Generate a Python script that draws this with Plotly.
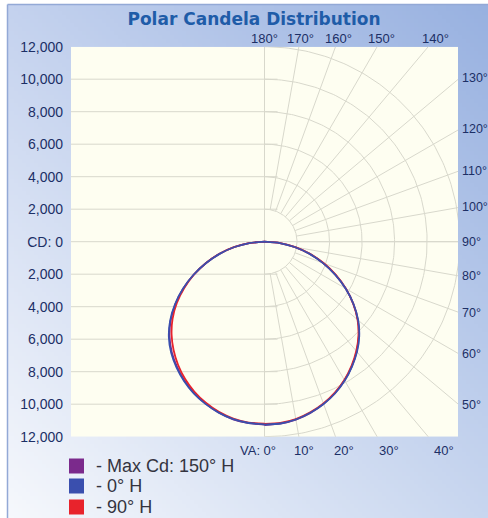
import base64
import struct
import zlib

import numpy as np
import plotly.graph_objects as go

# ---------------- data ----------------
VERT_ANGLES = [0, 5, 10, 15, 20, 25, 30, 35, 40, 45, 50, 55, 60, 65, 70, 75, 80, 85, 90]

SERIES_NAMES = ["- Max Cd: 150° H", "- 0° H", "- 90° H"]

# candela on the right half-plane (named plane) and on the opposite half-plane (left side)
MAX150_RIGHT = [11280, 11240, 11120, 10910, 10620, 10270, 9850, 9360, 8820, 8210, 7500, 6670, 5770, 4810, 3840, 2870, 1900, 950, 0]
MAX150_LEFT = [11250, 11210, 11100, 10880, 10600, 10260, 9860, 9390, 8870, 8260, 7530, 6690, 5770, 4800, 3820, 2850, 1880, 940, 0]
H0_RIGHT = [11260, 11230, 11110, 10900, 10630, 10290, 9870, 9380, 8850, 8240, 7520, 6680, 5760, 4790, 3810, 2840, 1880, 940, 0]
H0_LEFT = [11240, 11200, 11090, 10890, 10620, 10300, 9900, 9440, 8930, 8320, 7580, 6720, 5790, 4810, 3800, 2830, 1870, 930, 0]
H90_RIGHT = [11220, 11190, 11080, 10870, 10590, 10240, 9820, 9330, 8780, 8170, 7470, 6660, 5780, 4840, 3880, 2900, 1930, 970, 0]
H90_LEFT = [11200, 11170, 11050, 10840, 10550, 10190, 9760, 9260, 8700, 8080, 7380, 6580, 5700, 4780, 3830, 2870, 1910, 960, 0]

Y_TICK_VALS = [12000, 10000, 8000, 6000, 4000, 2000, 0, -2000, -4000, -6000, -8000, -10000, -12000]
Y_TICK_TEXT = ["12,000", "10,000", "8,000", "6,000", "4,000", "2,000", "CD: 0",
               "2,000", "4,000", "6,000", "8,000", "10,000", "12,000"]

GRID_RADII = [2000, 4000, 6000, 8000, 10000, 12000]
RADIAL_ANGLES = [10, 20, 30, 40, 50, 60, 70, 80, 90, 100, 110, 120, 130, 140, 150, 160, 170]
TOP_ANGLE_LABELS = [180, 170, 160, 150, 140]
RIGHT_ANGLE_LABELS = [130, 120, 110, 100, 90, 80, 70, 60, 50]
BOTTOM_ANGLE_LABELS = [0, 10, 20, 30, 40]

# ---------------- style ----------------
W, H = 488, 518
COLORS = ["#7b2a8c", "#3a4fae", "#e8232c"]
NAVY = "#1c2f66"
GRID = "#d8d8cc"
X_MAX = 11900
Y_MAX = 12000
FONT = "Liberation Sans, Arial, sans-serif"


def gradient_png(w, h, tl, tr, bl, br):
    raw = bytearray()
    for j in range(h):
        v = j / (h - 1)
        raw.append(0)
        for i in range(w):
            u = i / (w - 1)
            for k in range(3):
                c = (tl[k] * (1 - u) * (1 - v) + tr[k] * u * (1 - v)
                     + bl[k] * (1 - u) * v + br[k] * u * v)
                raw.append(int(round(c)))

    def chunk(t, d):
        return struct.pack(">I", len(d)) + t + d + struct.pack(">I", zlib.crc32(t + d) & 0xFFFFFFFF)

    png = (b"\x89PNG\r\n\x1a\n"
           + chunk(b"IHDR", struct.pack(">IIBBBBB", w, h, 8, 2, 0, 0, 0))
           + chunk(b"IDAT", zlib.compress(bytes(raw), 9))
           + chunk(b"IEND", b""))
    return "data:image/png;base64," + base64.b64encode(png).decode()


def px(x):
    return x / W


def py(y):
    return 1 - y / H


fig = go.Figure()

# ----- grid: left horizontal lines -----
for yv in Y_TICK_VALS:
    if abs(yv) == Y_MAX:
        continue
    fig.add_trace(go.Scatter(x=[-X_MAX, 800 if yv != 0 else X_MAX], y=[yv, yv], mode="lines",
                             line=dict(color=GRID, width=1), hoverinfo="skip", showlegend=False))
# vertical axis line
fig.add_trace(go.Scatter(x=[0, 0], y=[-Y_MAX, Y_MAX], mode="lines",
                         line=dict(color=GRID, width=1), hoverinfo="skip", showlegend=False))
# arcs
th = np.radians(np.arange(0, 181, 1))
for r in GRID_RADII:
    fig.add_trace(go.Scatter(x=r * np.sin(th), y=-r * np.cos(th), mode="lines",
                             line=dict(color=GRID, width=1), hoverinfo="skip", showlegend=False))
# radial lines
for a in RADIAL_ANGLES:
    ar = np.radians(a)
    r0, r1 = GRID_RADII[0], 30000
    fig.add_trace(go.Scatter(x=[r0 * np.sin(ar), r1 * np.sin(ar)], y=[-r0 * np.cos(ar), -r1 * np.cos(ar)],
                             mode="lines", line=dict(color=GRID, width=1),
                             hoverinfo="skip", showlegend=False))

# ----- candela curves -----
va = np.radians(np.array(VERT_ANGLES))
series = [(MAX150_RIGHT, MAX150_LEFT), (H0_RIGHT, H0_LEFT), (H90_RIGHT, H90_LEFT)]
order = [0, 2, 1]
for idx in order:
    right, left = series[idx]
    r_r = np.array(right, dtype=float)
    r_l = np.array(left, dtype=float)
    xs = np.concatenate([r_r * np.sin(va), (-r_l * np.sin(va))[::-1]])
    ys = np.concatenate([-r_r * np.cos(va), (-r_l * np.cos(va))[::-1]])
    fig.add_trace(go.Scatter(x=xs, y=ys, mode="lines", name=SERIES_NAMES[idx],
                             line=dict(color=COLORS[idx], width=1.8, shape="spline", smoothing=0.6),
                             showlegend=False))

# ----- angle labels -----
ann = []
lab_font = dict(family=FONT, size=13, color=NAVY)
for a in TOP_ANGLE_LABELS:
    yt = 12500
    xt = -yt * np.tan(np.radians(a))
    ann.append(dict(x=xt, y=py(38.5), xref="x", yref="paper", text=f"{a}°", showarrow=False,
                    xanchor="center", yanchor="middle", font=lab_font))
for a in RIGHT_ANGLE_LABELS:
    yt = -12000 / np.tan(np.radians(a)) if a != 90 else 0
    ann.append(dict(x=X_MAX, y=yt, xref="x", yref="y", text=f"{a}°", showarrow=False,
                    xanchor="left", yanchor="middle", xshift=2, font=dict(family=FONT, size=12.5, color=NAVY)))
for a in BOTTOM_ANGLE_LABELS:
    xt = 12900 * np.tan(np.radians(a))
    if a == 0:
        ann.append(dict(x=0, y=py(450), xref="x", yref="paper", text=f"VA: {a}°", showarrow=False,
                        xanchor="right", yanchor="middle", xshift=13, font=lab_font))
    else:
        ann.append(dict(x=xt, y=py(450), xref="x", yref="paper", text=f"{a}°", showarrow=False,
                        xanchor="center", yanchor="middle", xshift=3, font=lab_font))

# ----- legend (custom swatches) -----
shapes = []
legend_rows = [466, 486, 507]
for i, name in enumerate(SERIES_NAMES):
    yc = legend_rows[i]
    shapes.append(dict(type="rect", xref="paper", yref="paper", x0=px(69), x1=px(84),
                       y0=py(yc + 7.5), y1=py(yc - 7.5), fillcolor=COLORS[i],
                       line=dict(width=0), layer="above"))
    ann.append(dict(x=px(94), y=py(yc), xref="paper", yref="paper", text=name, showarrow=False,
                    xanchor="left", yanchor="middle",
                    font=dict(family=FONT, size=18, color="#34343f")))

# plot area background
shapes.insert(0, dict(type="rect", xref="x", yref="y", x0=-X_MAX, x1=X_MAX, y0=-Y_MAX, y1=Y_MAX,
                      fillcolor="#fefef1", line=dict(width=0), layer="below"))
# outer frame lines
shapes.append(dict(type="line", xref="paper", yref="paper", x0=px(7.5), x1=px(7.5), y0=0, y1=py(4.5),
                   line=dict(color="#93a9d6", width=1.5), layer="above"))
shapes.append(dict(type="line", xref="paper", yref="paper", x0=px(7.5), x1=1, y0=py(4.5), y1=py(4.5),
                   line=dict(color="#93a9d6", width=1.5), layer="above"))

bg = gradient_png(120, 128, (196, 210, 238), (152, 177, 224), (246, 248, 252), (200, 214, 239))

fig.update_layout(
    width=W, height=H, autosize=False,
    margin=dict(l=0, r=0, t=0, b=0),
    paper_bgcolor="white",
    plot_bgcolor="rgba(0,0,0,0)",
    showlegend=False,
    title=dict(text="<b>Polar Candela Distribution</b>", x=px(254), y=py(19),
               xanchor="center", yanchor="middle", xref="paper", yref="paper",
               font=dict(family="DejaVu Sans, sans-serif", size=17, color="#1f5ca8")),
    xaxis=dict(domain=[px(71), px(458)], range=[-X_MAX, X_MAX], showgrid=False, zeroline=False,
               showticklabels=False, ticks="", fixedrange=True),
    yaxis=dict(domain=[py(436.7), py(46.7)], range=[-Y_MAX, Y_MAX], showgrid=False, zeroline=False,
               tickmode="array", tickvals=Y_TICK_VALS, ticktext=Y_TICK_TEXT, ticks="",
               ticklabelstandoff=7, automargin=False,
               tickfont=dict(family=FONT, size=14, color=NAVY),
               fixedrange=True),
    annotations=ann,
    shapes=shapes,
    images=[dict(source=bg, xref="paper", yref="paper", x=px(8), y=py(5), sizex=1 - px(8),
                 sizey=py(5), xanchor="left", yanchor="top", sizing="stretch", layer="below")],
)

fig.write_html("out.html", config={"displayModeBar": False},
               post_script="document.body.style.margin='0';document.body.style.overflow='hidden';")
